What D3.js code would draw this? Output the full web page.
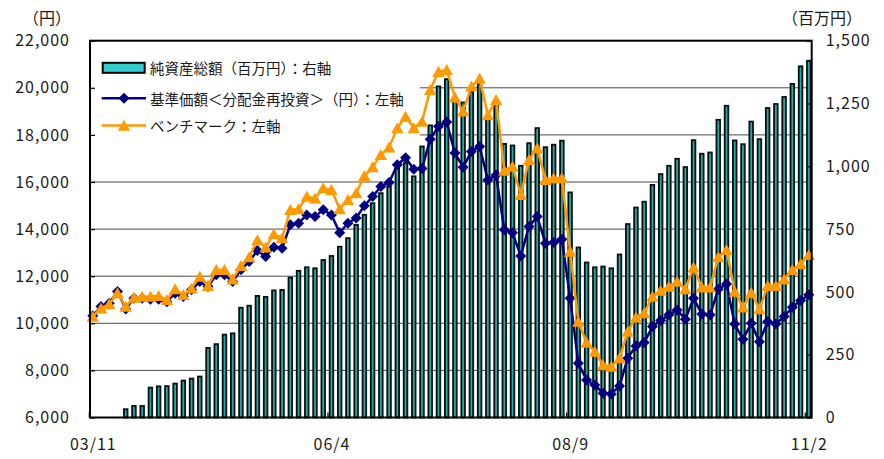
<!DOCTYPE html>
<html>
<head>
<meta charset="utf-8">
<script src="https://cdn.jsdelivr.net/npm/d3@7"></script>
<style>
  body { margin: 0; background: #fff; }
  text { font-family: "Noto Sans CJK JP", "Noto Sans", sans-serif; }
</style>
</head>
<body>
<div id="container"></div>
<script>
// monthly categories 2003/11 .. 2011/2
const months = [
  '03/11', '03/12',
  '04/1', '04/2', '04/3', '04/4', '04/5', '04/6', '04/7', '04/8', '04/9', '04/10', '04/11', '04/12',
  '05/1', '05/2', '05/3', '05/4', '05/5', '05/6', '05/7', '05/8', '05/9', '05/10', '05/11', '05/12',
  '06/1', '06/2', '06/3', '06/4', '06/5', '06/6', '06/7', '06/8', '06/9', '06/10', '06/11', '06/12',
  '07/1', '07/2', '07/3', '07/4', '07/5', '07/6', '07/7', '07/8', '07/9', '07/10', '07/11', '07/12',
  '08/1', '08/2', '08/3', '08/4', '08/5', '08/6', '08/7', '08/8', '08/9', '08/10', '08/11', '08/12',
  '09/1', '09/2', '09/3', '09/4', '09/5', '09/6', '09/7', '09/8', '09/9', '09/10', '09/11', '09/12',
  '10/1', '10/2', '10/3', '10/4', '10/5', '10/6', '10/7', '10/8', '10/9', '10/10', '10/11', '10/12',
  '11/1', '11/2'
];
const xTickLabels = ['03/11', '06/4', '08/9', '11/2'];

// 純資産総額 (百万円), right axis
const netAssets = [
  0, 0, 0, 0, 33, 46, 46, 119, 124, 125,
  135, 147, 155, 163, 277, 292, 330, 335, 437, 445,
  484, 480, 506, 508, 557, 584, 598, 594, 627, 643,
  680, 714, 767, 807, 853, 893, 920, 1006, 1013, 960,
  1079, 1163, 1318, 1347, 1262, 1254, 1297, 1328, 1188, 1241,
  1089, 1083, 1002, 1092, 1152, 1076, 1086, 1102, 896, 677,
  617, 598, 601, 594, 649, 770, 836, 859, 926, 969,
  1002, 1030, 997, 1104, 1050, 1055, 1185, 1241, 1103, 1088,
  1178, 1108, 1232, 1248, 1276, 1328, 1398, 1420
];

// 基準価額 (円), left axis
const basePrice = [
  10320, 10710, 10850, 11350, 10610, 11065, 11065, 11020, 11020, 10920,
  11280, 11135, 11420, 11770, 11560, 12060, 12060, 11770, 12270, 12620,
  13090, 12835, 13230, 13190, 14180, 14250, 14600, 14530, 14820, 14600,
  13850, 14250, 14470, 14990, 15380, 15810, 15980, 16730, 17030, 16540,
  16570, 17820, 18360, 18550, 17230, 16630, 17300, 17510, 16090, 16300,
  13970, 13850, 12860, 14110, 14530, 13400, 13430, 13570, 11065, 8300,
  7590, 7380, 7030, 7000, 7340, 8520, 9040, 9180, 9860, 10120,
  10360, 10570, 10170, 11065, 10400, 10360, 11450, 11670, 9970, 9320,
  10000, 9220, 10070, 9970, 10290, 10680, 10970, 11210
];

// ベンチマーク, left axis
const benchmark = [
  10290, 10640, 10820, 11280, 10710, 11090, 11135, 11135, 11165, 10995,
  11450, 11205, 11490, 11985, 11590, 12270, 12270, 11870, 12440, 12810,
  13540, 13230, 13790, 13620, 14820, 14850, 15380, 15310, 15740, 15670,
  14850, 15240, 15530, 16260, 16630, 17160, 17470, 18290, 18780, 18290,
  18570, 19920, 20680, 20760, 19600, 19000, 20060, 20390, 18840, 19490,
  16490, 16660, 15460, 16940, 17440, 16090, 16170, 16170, 13050, 10070,
  9180, 8800, 8230, 8160, 8520, 9650, 10260, 10430, 11135, 11390,
  11560, 11770, 11450, 12380, 11530, 11530, 12810, 13120, 11350, 10680,
  11310, 10600, 11590, 11590, 11870, 12270, 12520, 12910
];

const leftTicks = [6000, 8000, 10000, 12000, 14000, 16000, 18000, 20000, 22000];
const rightTicks = [0, 250, 500, 750, 1000, 1250, 1500];
const legendLabels = [
  '純資産総額（百万円）：右軸',
  '基準価額＜分配金再投資＞（円）：左軸',
  'ベンチマーク：左軸'
];

const plot = { left: 90, right: 811.7, top: 40.7, bottom: 417.5 };

const svg = d3.select('#container')
    .append('svg')
    .attr('width', 884)
    .attr('height', 459);

const x = d3.scalePoint()
    .domain(months)
    .range([92.8, 808.8]);

const yL = d3.scaleLinear()
    .domain([6000, 22000])
    .range([plot.bottom, plot.top]);

const yR = d3.scaleLinear()
    .domain([0, 1500])
    .range([plot.bottom, plot.top]);

// grid
svg.append('g')
    .selectAll('line')
    .data(leftTicks.slice(1, -1)).enter()
    .append('line')
    .attr('x1', plot.left)
    .attr('x2', plot.right)
    .attr('y1', d => yL(d))
    .attr('y2', d => yL(d))
    .attr('stroke', '#4a4a4a')
    .attr('stroke-width', 1);

// legend background hides grid behind it
svg.append('rect')
    .attr('x', plot.left + 1)
    .attr('y', plot.top + 1)
    .attr('width', 420 - plot.left - 1)
    .attr('height', 145 - plot.top)
    .attr('fill', '#fff');

// bars
svg.append('g')
    .selectAll('rect')
    .data(months.map((m, i) => ({ m, v: netAssets[i] })).filter(d => d.v > 0)).enter()
    .append('rect')
    .attr('x', d => x(d.m) - 1.8)
    .attr('width', 3.6)
    .attr('y', d => yR(d.v))
    .attr('height', d => yR(0) - yR(d.v))
    .attr('fill', '#28a8a8')
    .attr('stroke', '#061010')
    .attr('stroke-width', 1.8);

const diamond = 'M0,-5.5L5.5,0L0,5.5L-5.5,0Z';
const triangle = 'M0,-5.8L6.2,5.2L-6.2,5.2Z';

const drawSeries = (values, color, marker) => {
    const g = svg.append('g');
    g.append('path')
        .datum(values)
        .attr('fill', 'none')
        .attr('stroke', color)
        .attr('stroke-width', 2.5)
        .attr('stroke-linejoin', 'round')
        .attr('d', d3.line().x((d, i) => x(months[i])).y(d => yL(d)));
    g.selectAll('path.m')
        .data(values).enter()
        .append('path')
        .attr('class', 'm')
        .attr('d', marker)
        .attr('transform', (d, i) => `translate(${x(months[i])},${yL(d)})`)
        .attr('fill', color);
};

drawSeries(basePrice, '#000080', diamond);
drawSeries(benchmark, '#ff9900', triangle);

// frame
svg.append('rect')
    .attr('x', plot.left)
    .attr('y', plot.top)
    .attr('width', plot.right - plot.left)
    .attr('height', plot.bottom - plot.top)
    .attr('fill', 'none')
    .attr('stroke', '#000')
    .attr('stroke-width', 2);

// axes
const styleAxis = g => {
    g.select('.domain').remove();
    g.selectAll('.tick line').attr('stroke', '#000').attr('stroke-width', 1.2);
    g.selectAll('text')
        .attr('fill', '#1a1a1a')
        .attr('font-size', 16)
        .attr('letter-spacing', 1)
        .style('font-family', '"Noto Sans CJK JP", sans-serif');
};

svg.append('g')
    .attr('transform', `translate(${plot.left},0)`)
    .call(d3.axisLeft(yL).tickValues(leftTicks).tickFormat(d3.format(',')).tickSize(-5).tickPadding(20))
    .call(styleAxis);

svg.append('g')
    .attr('transform', `translate(${plot.right},0)`)
    .call(d3.axisRight(yR).tickValues(rightTicks).tickFormat(d3.format(',')).tickSize(-5).tickPadding(14))
    .call(styleAxis);

svg.append('g')
    .attr('transform', `translate(0,${plot.bottom})`)
    .call(d3.axisBottom(x).tickValues(xTickLabels).tickSize(-5).tickPadding(21))
    .call(styleAxis)
    .call(g => g.selectAll('.tick line').attr('transform', 'translate(-4,0)'));

// unit labels
svg.append('text')
    .attr('x', 47).attr('y', 16.5)
    .attr('text-anchor', 'middle')
    .attr('dominant-baseline', 'central')
    .attr('font-size', 16)
    .attr('fill', '#1a1a1a')
    .text('（円）');

svg.append('text')
    .attr('x', 822).attr('y', 16.5)
    .attr('text-anchor', 'middle')
    .attr('dominant-baseline', 'central')
    .attr('font-size', 16)
    .attr('fill', '#1a1a1a')
    .text('（百万円）');

// legend
const legendY = [67.8, 98.3, 125.5];
const lg = svg.append('g');

lg.append('rect')
    .attr('x', 102.7).attr('y', legendY[0] - 5)
    .attr('width', 42).attr('height', 10)
    .attr('fill', '#33cccc')
    .attr('stroke', '#000')
    .attr('stroke-width', 2);

[['#000080', diamond], ['#ff9900', triangle]].forEach(([c, m], k) => {
    const yy = legendY[k + 1];
    lg.append('line')
        .attr('x1', 101.7).attr('x2', 146)
        .attr('y1', yy).attr('y2', yy)
        .attr('stroke', c).attr('stroke-width', 2.5);
    lg.append('path')
        .attr('d', m)
        .attr('transform', `translate(124,${yy})`)
        .attr('fill', c);
});

lg.selectAll('text')
    .data(legendLabels).enter()
    .append('text')
    .attr('x', 150)
    .attr('y', (d, i) => legendY[i])
    .attr('dominant-baseline', 'central')
    .attr('font-size', 14.5)
    .attr('fill', '#1a1a1a')
    .text(d => d);
</script>
</body>
</html>
